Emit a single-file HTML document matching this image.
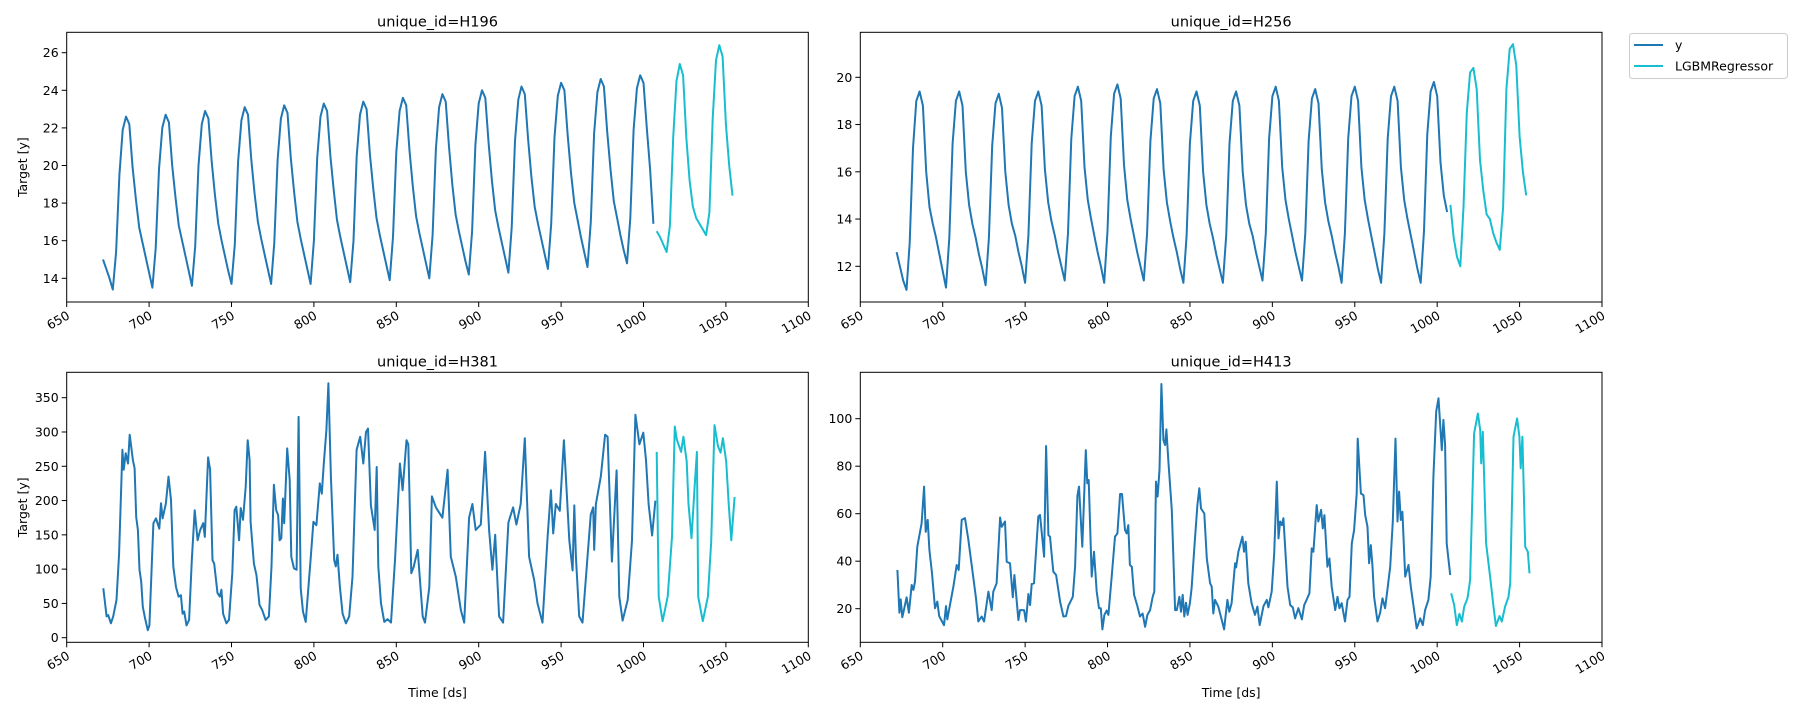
<!DOCTYPE html>
<html><head><meta charset="utf-8"><style>
html,body{margin:0;padding:0;background:#fff;}
svg{display:block;font-family:"DejaVu Sans","Liberation Sans",sans-serif;}
</style></head><body>
<svg id="chart" width="1797" height="711" viewBox="0 0 1797 711" xmlns="http://www.w3.org/2000/svg"></svg>
<script>
// ---- data ----
const xTicks = [650,700,750,800,850,900,950,1000,1050,1100];
const h196Ticks = [14,16,18,20,22,24,26];
const h256Ticks = [12,14,16,18,20];
const h381Ticks = [0,50,100,150,200,250,300,350];
const h413Ticks = [20,40,60,80,100];
const stepStart = 672, fcStart = 1008;
const h196Actual = [
15.0,14.5,14.0,13.4,15.4,19.5,21.9,22.6,22.2,19.9,18.2,16.7,
15.9,15.1,14.3,13.5,15.6,19.8,22.0,22.7,22.3,20.0,18.3,16.8,
16.0,15.2,14.4,13.6,15.7,20.0,22.2,22.9,22.5,20.2,18.4,16.9,
16.0,15.2,14.4,13.7,15.8,20.2,22.4,23.1,22.7,20.3,18.5,17.0,
16.1,15.3,14.5,13.7,15.9,20.3,22.5,23.2,22.8,20.4,18.6,17.0,
16.1,15.3,14.5,13.7,16.0,20.4,22.6,23.3,22.9,20.5,18.7,17.1,
16.2,15.4,14.6,13.8,16.0,20.5,22.7,23.4,23.0,20.6,18.8,17.2,
16.3,15.5,14.7,13.9,16.2,20.7,22.9,23.6,23.2,20.8,18.9,17.3,
16.4,15.6,14.8,14.0,16.3,20.9,23.1,23.8,23.4,21.0,19.0,17.4,
16.5,15.7,14.9,14.2,16.5,21.1,23.3,24.0,23.6,21.2,19.2,17.6,
16.7,15.9,15.1,14.3,16.7,21.3,23.5,24.2,23.8,21.4,19.4,17.8,
16.9,16.1,15.3,14.5,16.9,21.5,23.7,24.4,24.0,21.6,19.6,18.0,
17.1,16.2,15.4,14.6,17.0,21.7,23.9,24.6,24.2,21.8,19.8,18.1,
17.2,16.3,15.5,14.8,17.2,21.9,24.1,24.8,24.4,22.0,19.8,16.9];
const h196Forecast = [16.5,16.2,15.8,15.4,16.8,21.5,24.5,25.4,24.8,21.5,19.2,17.8,17.2,16.9,16.6,16.3,17.5,22.5,25.6,26.4,25.8,22.2,20.0,18.4];
const h256Actual = [
12.6,12.0,11.4,11.0,13.0,17.0,19.0,19.4,18.8,16.0,14.5,13.8,
13.2,12.5,11.8,11.1,13.2,17.2,19.0,19.4,18.8,16.0,14.6,13.8,
13.2,12.5,11.9,11.2,13.2,17.1,18.9,19.3,18.7,16.0,14.6,13.8,
13.3,12.6,12.0,11.3,13.3,17.2,19.0,19.4,18.8,16.1,14.7,13.9,
13.3,12.6,12.0,11.4,13.4,17.4,19.2,19.6,19.0,16.2,14.8,14.0,
13.3,12.6,12.0,11.3,13.5,17.5,19.3,19.7,19.1,16.3,14.8,14.0,
13.3,12.6,12.0,11.4,13.4,17.3,19.1,19.5,18.9,16.1,14.7,13.9,
13.2,12.6,11.9,11.3,13.3,17.2,19.0,19.4,18.8,16.0,14.6,13.8,
13.2,12.5,11.9,11.3,13.3,17.2,19.0,19.4,18.8,16.0,14.6,13.8,
13.3,12.6,12.0,11.4,13.4,17.4,19.2,19.6,19.0,16.2,14.8,14.0,
13.3,12.6,12.0,11.4,13.4,17.3,19.1,19.5,18.9,16.1,14.7,13.9,
13.3,12.6,12.0,11.3,13.4,17.4,19.2,19.6,19.0,16.2,14.8,14.0,
13.3,12.6,11.9,11.3,13.4,17.4,19.2,19.6,19.0,16.2,14.8,14.0,
13.3,12.6,11.9,11.3,13.5,17.6,19.4,19.8,19.2,16.4,15.0,14.3];
const h256Forecast = [14.6,13.2,12.4,12.0,14.5,18.5,20.2,20.4,19.5,16.5,15.2,14.2,14.0,13.4,13.0,12.7,14.5,19.5,21.2,21.4,20.5,17.5,16.0,15.0];
const h381ActualDs = [672.2,674.2,675.2,676.8,678.2,680.2,681.8,683.8,684.6,685.8,687.2,688.2,690.2,691.2,692.2,693.2,694.2,695.2,696.2,697.6,699.2,700.2,702.6,704.2,706.2,707.2,708.2,710.2,711.8,713.3,714.7,716.3,717.9,719.3,720.3,721.3,722.7,724.3,725.9,727.7,729.4,731,732.8,733.8,735.8,737,738.5,739.5,741.5,742.9,743.9,744.9,746.9,748.5,750.5,751.9,752.9,754.6,755.6,757,758.6,759.8,761,761.6,763.6,765.2,767,768.7,770.7,772.7,774.3,775.7,777.1,778.3,779.2,780.2,781.2,782,783.8,785.3,786.3,787.9,789.5,790.7,792,793.4,795,798.1,799.7,801.5,803.6,804.8,806,807.6,808.8,810.3,812.3,813.3,814.3,815.8,817.4,819.4,821.4,823.4,825.9,828.1,830,831.6,832.8,834.6,836.9,838.1,839.1,840.7,842.7,844.7,846.8,849.2,852.2,853.8,856.2,857.3,859.1,860.5,863,866,867.4,870,871.6,874,878,881.1,883.1,886.1,889.2,891.2,894.2,896.2,898.2,901.3,903.9,906.3,908.3,910,912.4,914.8,918,920.9,922.9,925.5,928,930.6,933.7,935.7,938.7,941.8,943.8,945.2,946.8,949.2,951.7,955,957,958,959,961,963,966,968,969.5,970.1,971.1,974.1,976.7,978.2,980.8,983.7,985.3,987.3,990.4,993,995.1,997.5,999.9,1001.5,1003.1,1005.2,1007.2];
const h381Actual = [72,31,33,21,31,55,123,274,245,269,254,296,259,247,176,157,99,82,45,28,11,18,167,174,159,196,174,196,235,201,104,74,60,62,35,38,18,26,113,186,142,157,167,147,263,245,113,108,65,60,70,35,21,26,94,186,191,142,189,172,220,288,259,169,108,91,48,40,26,31,104,223,186,179,142,145,203,167,276,230,118,101,99,322,72,38,23,118,169,164,225,210,254,303,371,235,113,104,121,74,35,21,31,89,274,293,254,300,305,193,157,249,104,50,23,27,22,113,254,215,288,282,94,103,128,31,22,74,206,190,175,245,118,89,40,22,175,195,157,165,271,157,99,150,31,22,168,190,165,195,291,118,84,50,22,147,215,152,195,185,288,142,98,193,118,31,22,118,180,190,128,195,235,296,293,111,244,60,25,55,142,325,282,299,259,195,149,200];
const h381ForecastDs = [1008,1009.2,1011.6,1014.7,1017.3,1019,1020.2,1022.8,1024.2,1026.2,1027.3,1029.1,1030.9,1032.4,1033.2,1036,1039.1,1041.1,1043.1,1045.2,1046.8,1048.2,1050.2,1051.7,1053.3,1055.3];
const h381Forecast = [271,60,24,60,147,308,289,271,293,257,195,145,215,271,60,24,60,140,310,279,270,291,257,195,142,205];
const h413ActualDs = [672.5,673.7,674.5,675.5,676.7,678.1,679.5,681.2,682.2,683.2,684.6,687.2,688.7,689.7,690.9,691.9,693.5,695.3,696.7,697.9,700.8,702,702.8,704.8,706.5,708.5,709.7,711.5,713.5,715.6,718.6,720.2,721.6,723.6,725.1,727.7,729.7,730.7,732.7,734.8,735.8,737.8,738.8,740.8,742.5,743.5,745.9,746.9,749.4,750.5,752,753,754,755.4,758,759,761.5,762.7,764.1,765.1,767.1,768.8,771.2,773.2,774.8,776.2,778.9,780.3,781.7,782.7,784.7,786.8,787.7,788.6,790.4,791.8,793.4,794.8,795.9,796.9,798.1,799.5,800.5,802.5,804.5,806,807.6,808.8,810.6,811.6,812.6,813.6,814.7,816.1,818.1,819.7,821.3,822.8,824.2,825.8,827.4,828.4,829.4,830.4,831.5,832.7,833.9,834.9,835.7,836.9,839,841,842,843.6,844.6,845.6,846.6,847.6,848.6,850,851,852.7,854.5,855.7,856.7,858.7,860.2,862.2,863.2,864.2,865.2,867.2,869.3,870.7,872.7,873.9,875.3,877.4,878,879.4,881.8,882.8,883.8,885.4,887.4,889.5,890.9,892.3,894.6,896.6,897.6,899.6,901.1,902.7,903.7,904.7,905.7,906.7,909.2,910.8,912.4,913.8,915.8,917.9,919.3,920.9,922.5,923.9,924.9,926.9,927.9,929.6,930.6,931.6,933.4,934.6,936,938.1,939.5,940.7,942.1,944.1,945.6,946.8,948.2,949.6,951.2,951.8,953.7,955.3,956.3,957.7,958.7,959.7,960.7,961.7,963.8,965.4,966.8,968.4,969.8,971.5,973.1,974.7,975.9,976.9,977.9,978.9,980.6,982.6,984,986,987.6,989.7,991.3,992.7,994.7,996.1,997.7,999.4,1000.8,1002.8,1003.8,1004.8,1005.8,1007.9];
const h413Actual = [36.3,18.3,23.9,16.4,20.2,24.8,18.3,30,27.9,31.4,46.1,55.9,71.4,52.4,57.4,44.7,34.9,20.2,23,16.9,13.1,21.1,15.5,23,29.3,38.4,36.3,57.4,58.1,48.9,32.8,24.4,14.6,16.7,14.6,27.2,19.4,27.2,30.7,58.4,54.5,56.7,39.8,39.1,24.8,34.2,15.2,19.4,19.4,14.6,26.2,21.5,30.4,30.7,58.8,59.5,41.9,88.5,51,50.3,35.6,34.2,23,16.7,16.9,21.1,25,37.7,67.5,71.4,46.1,86.8,72.8,74.2,33.5,44,27.2,20.2,20.2,11.3,17.4,19.2,17.4,33.5,50.3,51.7,68.3,68.3,53.1,51.7,55.2,38.4,37.7,25.8,21.1,16.7,18,12.4,17.4,19.4,25,27.2,73.5,67.2,78.4,114.6,91,88.9,95.5,81.9,61.6,19.4,19.4,25,18.7,25.8,16.7,22.5,17.4,22.3,28.6,46.1,63.6,70.7,62.2,60.1,41.2,30.7,29.3,18,23.7,20.9,15.2,11.3,23.7,18.7,22.3,39.1,37.4,44,50.3,44,48.2,30.7,22.3,17.4,20.9,13.1,21.1,23.7,20.6,27.2,43.3,73.5,49.6,56.7,55.2,58.1,29.3,21.5,20.6,15.9,20.2,15.5,21.5,23.9,26.5,45.4,44,63.6,56.7,61.6,53.8,59.4,37.7,41.2,29.3,19.4,25,20.2,22.3,14.6,23.7,25,47.5,53.1,68.5,91.6,68.5,67.8,59.4,54.5,39.1,46.8,38.4,25,14.6,18.2,24.4,20.2,27.9,37.7,56.7,91.6,56.7,69.3,57.4,60.8,33.5,38.4,29.3,19.4,11.7,15.9,13.1,19.4,23.7,33.5,75.6,103,108.6,86.8,99.5,88.9,47.5,34.2];
const h413ForecastDs = [1008.5,1010.3,1011.9,1013.5,1015,1016.4,1018.4,1020,1022.4,1024.7,1026.1,1026.7,1027.7,1029.7,1032.1,1034.2,1035.6,1037.8,1039.2,1041.2,1043.3,1044.3,1046.3,1048.5,1049.9,1050.7,1051.7,1053.4,1055,1056];
const h413Forecast = [26.5,21.5,13.1,17.8,14.6,20.9,24.4,32.1,93.8,102.2,95.2,81.2,94.5,47.5,33.5,20.9,12.7,16.9,14.6,20.9,25,30.7,92.4,100.1,92.4,79.1,92.4,46.1,44,34.9];

const NS = 'http://www.w3.org/2000/svg';
const svg = document.getElementById('chart');
const C1 = '#1f77b4', C2 = '#17becf';
function mk(tag, attrs, parent){const e=document.createElementNS(NS,tag);for(const k in attrs)e.setAttribute(k,attrs[k]);(parent||svg).appendChild(e);return e;}
function stepDs(start,n){const a=[];for(let i=0;i<n;i++)a.push(start+2*i);return a;}

function panel(cfg){
  const g = mk('g',{});
  
  
  const {L,R,T,B} = cfg;
  const xs = v => L + (v-650)/(1100-650)*(R-L);
  const ys = v => cfg.py0 + (v-cfg.v0)/(cfg.v1-cfg.v0)*(cfg.py1-cfg.py0);
  const t = mk('text',{x:(L+R)/2,y:T-6,'text-anchor':'middle','font-size':'14.5',fill:'#000'},g);
  t.textContent = cfg.title;
  
  
  xTicks.forEach(v=>{
    const x = xs(v);
    mk('line',{x1:x,x2:x,y1:B,y2:B+5,stroke:'#000','stroke-width':1},g);
    const lb = mk('text',{x:0,y:0,'text-anchor':'end','font-size':'12.5',fill:'#000',transform:`translate(${x+4},${B+16}) rotate(-30)`},g);
    lb.textContent = v;
    
    
  });
  cfg.yTicks.forEach(v=>{
    const y = ys(v);
    mk('line',{x1:L-5,x2:L,y1:y,y2:y,stroke:'#000','stroke-width':1},g);
    const lb = mk('text',{x:L-8,y:y+4.5,'text-anchor':'end','font-size':'12.5',fill:'#000'},g);
    lb.textContent = v;
    
    
  });
  const line = (dsArr, vals, color, nm) => {
    const d = vals.map((v,i)=>(i?'L':'M')+xs(dsArr[i]).toFixed(1)+','+ys(v).toFixed(1)).join('');
    const p = mk('path',{d:d,fill:'none',stroke:color,'stroke-width':2,'stroke-linejoin':'round'},g);
    
    
  };
  line(cfg.aDs, cfg.a, C1, 'actual-line');
  line(cfg.fDs, cfg.f, C2, 'forecast-line');
  const fr = mk('rect',{x:L,y:T,width:R-L,height:B-T,fill:'none',stroke:'#000','stroke-width':1},g);
  
  
  if(cfg.ylabel){
    const yl = mk('text',{x:0,y:0,'text-anchor':'middle','font-size':'12.5',fill:'#000',transform:`translate(27,${(T+B)/2}) rotate(-90)`},g);
    yl.textContent = 'Target [y]';
    
    
  }
  if(cfg.xlabel){
    const xl = mk('text',{x:(L+R)/2,y:697,'text-anchor':'middle','font-size':'12.5',fill:'#000'},g);
    xl.textContent = 'Time [ds]';
    
    
  }
}
const LL=66.7, LR=808.3, RL=860.3, RR=1602, TT=32.3, TB=302, BT=372.3, BB=642.3;
panel({name:'panel-h196',title:'unique_id=H196',L:LL,R:LR,T:TT,B:TB,v0:26,py0:52.7,v1:14,py1:278.3,yTicks:h196Ticks,
  aDs:stepDs(stepStart,h196Actual.length),a:h196Actual,fDs:stepDs(fcStart,h196Forecast.length),f:h196Forecast,ylabel:true});
panel({name:'panel-h256',title:'unique_id=H256',L:RL,R:RR,T:TT,B:TB,v0:20,py0:77.3,v1:12,py1:266.3,yTicks:h256Ticks,
  aDs:stepDs(stepStart,h256Actual.length),a:h256Actual,fDs:stepDs(fcStart,h256Forecast.length),f:h256Forecast});
panel({name:'panel-h381',title:'unique_id=H381',L:LL,R:LR,T:BT,B:BB,v0:350,py0:397.7,v1:0,py1:637.7,yTicks:h381Ticks,
  aDs:h381ActualDs,a:h381Actual,fDs:h381ForecastDs,f:h381Forecast,ylabel:true,xlabel:true});
panel({name:'panel-h413',title:'unique_id=H413',L:RL,R:RR,T:BT,B:BB,v0:100,py0:418.7,v1:20,py1:608.7,yTicks:h413Ticks,
  aDs:h413ActualDs,a:h413Actual,fDs:h413ForecastDs,f:h413Forecast,xlabel:true});

const lg = mk('g',{});


mk('rect',{x:1629.5,y:33.5,width:158,height:45,rx:3,fill:'#fff',stroke:'#ccc','stroke-width':1},lg);
[['y',C1,45],['LGBMRegressor',C2,66]].forEach(([lab,col,y])=>{
  const e = mk('g',{},lg);
  
  
  mk('line',{x1:1634,x2:1663,y1:y,y2:y,stroke:col,'stroke-width':2},e);
  const tx = mk('text',{x:1675,y:y+4.5,'font-size':'12.5',fill:'#000'},e);
  tx.textContent = lab;
});
</script>
</body></html>
